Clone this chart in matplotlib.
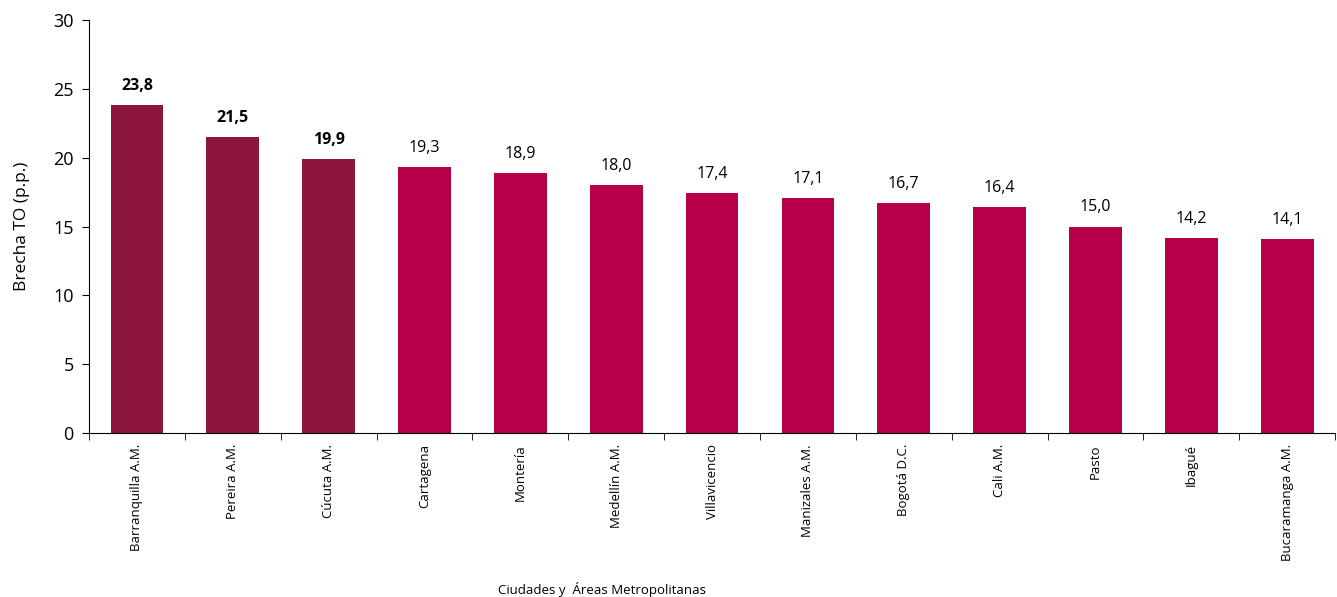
import numpy as np
import matplotlib.pyplot as plt

plt.rcParams['font.family'] = ['Open Sans', 'DejaVu Sans']

ciudades = ['Barranquilla A.M.', 'Pereira A.M.', 'Cúcuta A.M.', 'Cartagena', 'Montería',
            'Medellín A.M.', 'Villavicencio', 'Manizales A.M.', 'Bogotá D.C.', 'Cali A.M.',
            'Pasto', 'Ibagué', 'Bucaramanga A.M.']
brecha = [23.8, 21.5, 19.9, 19.3, 18.9, 18.0, 17.4, 17.1, 16.7, 16.4, 15.0, 14.2, 14.1]
destacadas = 3

fig = plt.figure(figsize=(13.37, 5.97), dpi=100)
ax = fig.add_axes([0.0666, 0.2747, 0.932, 0.6918])

x = np.arange(len(ciudades))
colores = ['#8B153D' if i < destacadas else '#B8004A' for i in range(len(ciudades))]
ax.bar(x, brecha, width=0.55, color=colores)

for i, v in enumerate(brecha):
    ax.text(i, v + 0.8, f'{v:.1f}'.replace('.', ','), ha='center', va='bottom',
            fontsize=11.5, fontweight='bold' if i < destacadas else 'normal')

ax.set_xlim(-0.5, len(ciudades) - 0.5)
ax.set_ylim(0, 30)
ax.set_yticks(range(0, 31, 5))
ax.set_xticks(x)
ax.set_xticklabels(ciudades, rotation=90, fontsize=9.5)
ax.set_xticks(np.arange(-0.5, len(ciudades), 1), minor=True)
ax.tick_params(axis='x', which='major', length=0, pad=8)
ax.tick_params(axis='x', which='minor', length=5, direction='out')
ax.tick_params(axis='y', labelsize=13, length=5, direction='out', pad=6)

for s in ['top', 'right']:
    ax.spines[s].set_visible(False)

ax.set_ylabel('Brecha TO (p.p.)', fontsize=12.5, labelpad=17)
fig.text(0.45, 0.0, 'Ciudades y  Áreas Metropolitanas', ha='center', va='bottom', fontsize=9.5)

fig.savefig('out.png', dpi=100)
